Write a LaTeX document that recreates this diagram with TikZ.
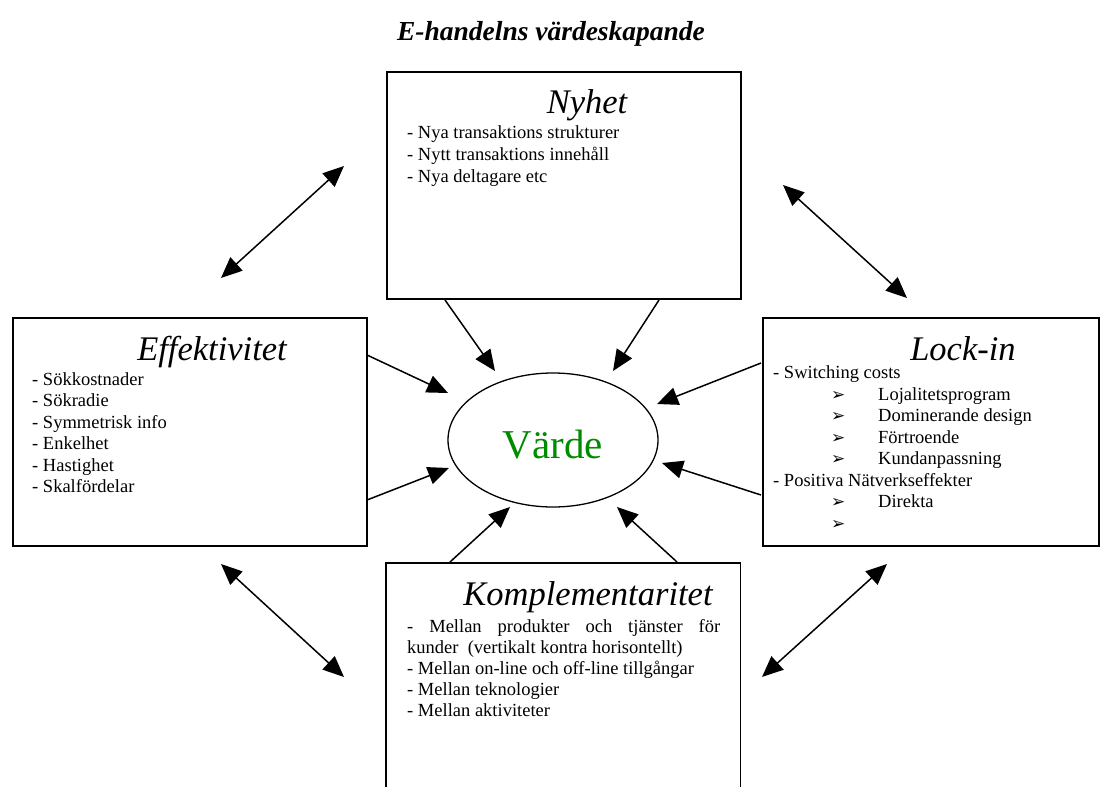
\documentclass[tikz,border=0pt]{standalone}
\usepackage{fontspec}
\setmainfont{Liberation Serif}
\newfontfamily\symfont{DejaVu Sans}
\usetikzlibrary{arrows.meta}
\definecolor{vgreen}{RGB}{0,140,0}
\tikzset{
  box/.style={draw, line width=1.5pt, anchor=north west, inner sep=0pt},
  heading/.style={anchor=base, font=\fontsize{34.5}{38}\selectfont\itshape, inner sep=0pt},
  item/.style={anchor=base west, font=\fontsize{18.5}{21.5}\selectfont, inner sep=0pt},
  feed/.style={line width=1.5pt, -{Triangle[length=21pt,width=18pt]}},
  link/.style={line width=1.5pt, {Triangle[length=21pt,width=18pt]}-{Triangle[length=21pt,width=18pt]}},
  bul/.style={anchor=base west, font=\symfont\fontsize{17}{19}\selectfont, inner sep=0pt}
}
\begin{document}
\begin{tikzpicture}[x=1pt,y=-1pt]
\useasboundingbox[fill=white] (0,0) rectangle (1103,787);

% title
\node[anchor=base, font=\fontsize{27.5}{31}\selectfont\bfseries\itshape, inner sep=0pt] (title) at (551,40) {E-handelns värdeskapande};

% the four boxes
\node[box, minimum width=354pt, minimum height=227pt] (nyhet) at (386,71) {};
\node[box, minimum width=354pt, minimum height=228pt] (eff) at (12,317) {};
\node[box, minimum width=336pt, minimum height=228pt] (lock) at (762,317) {};
\node[anchor=north west, inner sep=0pt, minimum width=354pt, minimum height=224pt] (komp) at (386,563) {};
\draw[line width=1.5pt] (komp.south west) |- (komp.north east) -- (komp.south east);

% centre ellipse
\draw[line width=1.3pt] (553,440) ellipse [x radius=105, y radius=67];
\node[font=\fontsize{41}{45}\selectfont, text=vgreen, inner sep=0pt, anchor=base] (varde) at (553,458) {Värde};

% Nyhet
\node[heading] (nyhetT) at (587,113) {Nyhet};
\node[item] (n1) at (407,138) {- Nya transaktions strukturer};
\node[item] (n2) at (407,160) {- Nytt transaktions innehåll};
\node[item] (n3) at (407,182) {- Nya deltagare etc};

% Effektivitet
\node[heading] (effT) at (212,360) {Effektivitet};
\node[item] (e1) at (32,385) {- Sökkostnader};
\node[item] (e2) at (32,406.5) {- Sökradie};
\node[item] (e3) at (32,428) {- Symmetrisk info};
\node[item] (e4) at (32,449.5) {- Enkelhet};
\node[item] (e5) at (32,471) {- Hastighet};
\node[item] (e6) at (32,492.5) {- Skalfördelar};

% Lock-in
\node[heading] (lockT) at (963,360) {Lock-in};
\node[item] (l1) at (773,378) {- Switching costs};
\node[bul] (b1) at (831,400) {➢};
\node[item] (l2) at (878,400) {Lojalitetsprogram};
\node[bul] (b2) at (831,421.5) {➢};
\node[item] (l3) at (878,421.5) {Dominerande design};
\node[bul] (b3) at (831,443) {➢};
\node[item] (l4) at (878,443) {Förtroende};
\node[bul] (b4) at (831,464.5) {➢};
\node[item] (l5) at (878,464.5) {Kundanpassning};
\node[item] (l6) at (773,486) {- Positiva Nätverkseffekter};
\node[bul] (b5) at (831,507.5) {➢};
\node[item] (l7) at (878,507.5) {Direkta};
\node[bul] (b6) at (831,529) {➢};

% Komplementaritet
\node[heading] (kompT) at (588,605) {Komplementaritet};
\node[item] (k1) at (407,632) {\makebox[313pt][s]{- Mellan produkter och tjänster för}};
\node[item] (k2) at (407,653) {kunder\ \ (vertikalt kontra horisontellt)};
\node[item] (k3) at (407,674) {- Mellan on-line och off-line tillgångar};
\node[item] (k4) at (407,695) {- Mellan teknologier};
\node[item] (k5) at (407,716) {- Mellan aktiviteter};

% arrow end points
\coordinate (nA) at (445,300);  \coordinate (nAt) at (495,371);
\coordinate (nB) at (659,300);  \coordinate (nBt) at (613,371);
\coordinate (eA) at (367,355);  \coordinate (eAt) at (448,393);
\coordinate (eB) at (367,500);  \coordinate (eBt) at (449,468);
\coordinate (lA) at (761,363);  \coordinate (lAt) at (657,404);
\coordinate (lB) at (761,495);  \coordinate (lBt) at (662,463);
\coordinate (kA) at (450,562);  \coordinate (kAt) at (510,507);
\coordinate (kB) at (677,562);  \coordinate (kBt) at (617,507);

\draw[feed] (nA) -- (nAt);
\draw[feed] (nB) -- (nBt);
\draw[feed] (eA) -- (eAt);
\draw[feed] (eB) -- (eBt);
\draw[feed] (lA) -- (lAt);
\draw[feed] (lB) -- (lBt);
\draw[feed] (kA) -- (kAt);
\draw[feed] (kB) -- (kBt);

% links between neighbouring boxes
\coordinate (tl1) at (221,278); \coordinate (tl2) at (344,166);
\coordinate (tr1) at (783,185); \coordinate (tr2) at (907,298);
\coordinate (bl1) at (221,564); \coordinate (bl2) at (344,677);
\coordinate (br1) at (887,564); \coordinate (br2) at (762,677);
\draw[link] (tl1) -- (tl2);
\draw[link] (tr1) -- (tr2);
\draw[link] (bl1) -- (bl2);
\draw[link] (br1) -- (br2);
\end{tikzpicture}
\end{document}
